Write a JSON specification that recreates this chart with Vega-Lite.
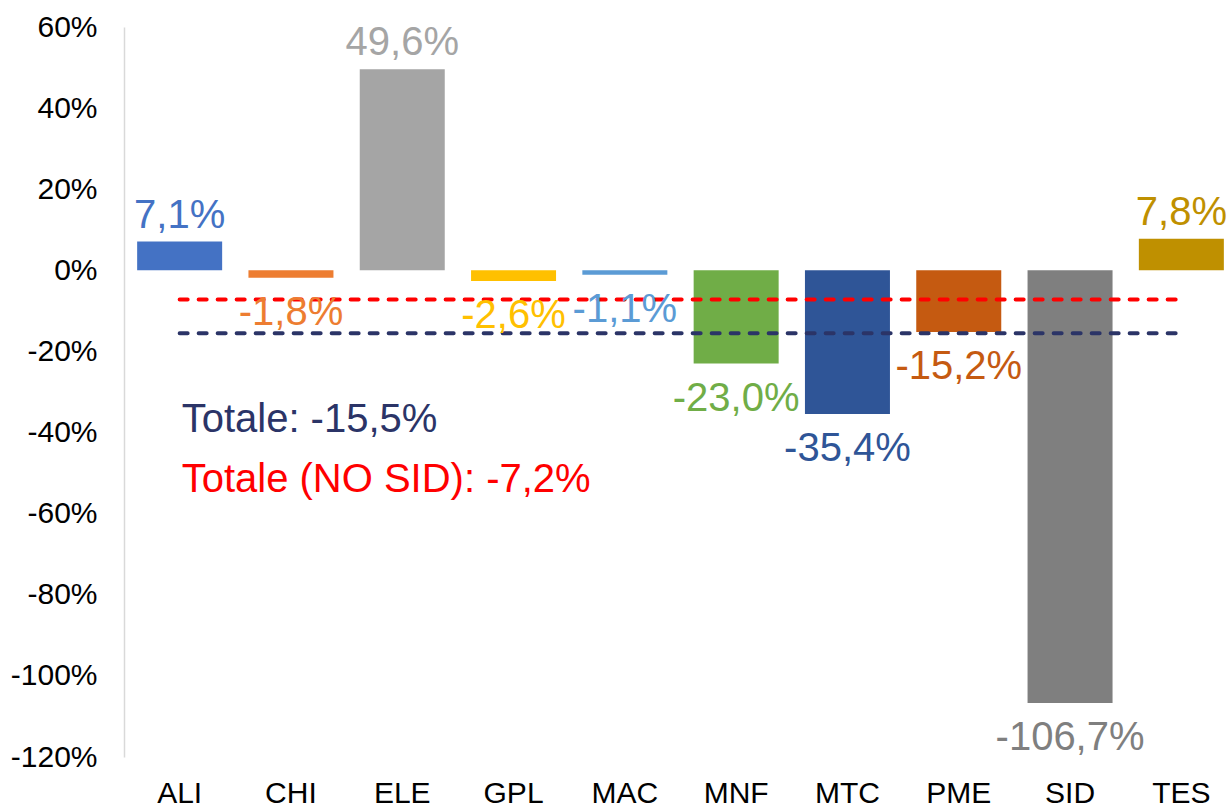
{
  "$schema": "https://vega.github.io/schema/vega-lite/v6.json",
  "width": 1113,
  "height": 730,
  "autosize": {"type": "none"},
  "padding": {"left": 124, "top": 27, "right": 0, "bottom": 51},
  "background": "white",
  "config": {
    "view": {"stroke": null},
    "font": "Liberation Sans",
    "locale": {"number": {"decimal": ",", "thousands": ".", "grouping": [3], "currency": ["", " €"], "minus": "-"}}
  },
  "datasets": {
    "bars": [
      {"cat": "ALI", "value": 0.071},
      {"cat": "CHI", "value": -0.018},
      {"cat": "ELE", "value": 0.496},
      {"cat": "GPL", "value": -0.026},
      {"cat": "MAC", "value": -0.011},
      {"cat": "MNF", "value": -0.230},
      {"cat": "MTC", "value": -0.354},
      {"cat": "PME", "value": -0.152},
      {"cat": "SID", "value": -1.067},
      {"cat": "TES", "value": 0.078}
    ],
    "totals": [
      {"serie": "Totale", "value": -0.155, "start": "ALI", "end": "TES", "label": "Totale: -15,5%"},
      {"serie": "Totale (NO SID)", "value": -0.072, "start": "ALI", "end": "TES", "label": "Totale (NO SID): -7,2%"}
    ]
  },
  "resolve": {"scale": {"color": "independent"}},
  "layer": [
    {
      "mark": {"type": "rule", "color": "#D9D9D9", "strokeWidth": 1.5},
      "encoding": {"y": {"datum": 0, "type": "quantitative", "scale": {"domain": [-1.2, 0.6], "nice": false, "zero": false}}}
    },
    {
      "data": {"name": "bars"},
      "mark": {"type": "bar", "size": 85},
      "encoding": {
        "x": {
          "field": "cat", "type": "nominal", "sort": null,
          "scale": {"paddingInner": 0.236, "paddingOuter": 0.118},
          "axis": {"title": null, "domain": false, "ticks": false, "labelAngle": 0, "labelFontSize": 30, "labelColor": "#000000", "labelPadding": 21, "labelFont": "Liberation Sans"}
        },
        "y": {
          "field": "value", "type": "quantitative",
          "scale": {"domain": [-1.2, 0.6], "nice": false, "zero": false},
          "axis": {"title": null, "grid": false, "ticks": false, "format": ".0%", "values": [-1.2, -1.0, -0.8, -0.6, -0.4, -0.2, 0, 0.2, 0.4, 0.6], "domainColor": "#D9D9D9", "domainWidth": 1.5, "labelFontSize": 30, "labelColor": "#000000", "labelPadding": 27, "labelFont": "Liberation Sans"}
        },
        "color": {
          "field": "cat", "type": "nominal", "legend": null,
          "scale": {"domain": ["ALI","CHI","ELE","GPL","MAC","MNF","MTC","PME","SID","TES"],
                    "range": ["#4472C4","#ED7D31","#A5A5A5","#FFC000","#5B9BD5","#70AD47","#2F5597","#C55A11","#7F7F7F","#BF9000"]}
        }
      }
    },
    {
      "data": {"name": "totals"},
      "mark": {"type": "rule", "strokeWidth": 4, "strokeDash": [8, 11], "strokeCap": "round"},
      "encoding": {
        "x": {"field": "start", "type": "nominal", "sort": null},
        "x2": {"field": "end"},
        "y": {"field": "value", "type": "quantitative"},
        "color": {"field": "serie", "type": "nominal", "legend": null,
                  "scale": {"domain": ["Totale", "Totale (NO SID)"], "range": ["#2B3467", "#FF0000"]}}
      }
    },
    {
      "data": {"name": "bars"},
      "transform": [{"filter": "datum.value >= 0"}],
      "mark": {"type": "text", "baseline": "alphabetic", "dy": -14, "fontSize": 40, "font": "Liberation Sans"},
      "encoding": {
        "x": {"field": "cat", "type": "nominal", "sort": null},
        "y": {"field": "value", "type": "quantitative"},
        "text": {"field": "value", "type": "quantitative", "format": ".1%"},
        "color": {
          "field": "cat", "type": "nominal", "legend": null,
          "scale": {"domain": ["ALI","CHI","ELE","GPL","MAC","MNF","MTC","PME","SID","TES"],
                    "range": ["#4472C4","#ED7D31","#A5A5A5","#FFC000","#5B9BD5","#70AD47","#2F5597","#C55A11","#7F7F7F","#BF9000"]}
        }
      }
    },
    {
      "data": {"name": "bars"},
      "transform": [{"filter": "datum.value < 0"}],
      "mark": {"type": "text", "baseline": "top", "dy": 15, "fontSize": 40, "font": "Liberation Sans"},
      "encoding": {
        "x": {"field": "cat", "type": "nominal", "sort": null},
        "y": {"field": "value", "type": "quantitative"},
        "text": {"field": "value", "type": "quantitative", "format": ".1%"},
        "color": {
          "field": "cat", "type": "nominal", "legend": null,
          "scale": {"domain": ["ALI","CHI","ELE","GPL","MAC","MNF","MTC","PME","SID","TES"],
                    "range": ["#4472C4","#ED7D31","#A5A5A5","#FFC000","#5B9BD5","#70AD47","#2F5597","#C55A11","#7F7F7F","#BF9000"]}
        }
      }
    },
    {
      "data": {"name": "totals"},
      "transform": [{"filter": "datum.serie == 'Totale'"}],
      "mark": {"type": "text", "align": "left", "baseline": "alphabetic", "dx": 2, "dy": 99, "fontSize": 40, "font": "Liberation Sans", "color": "#2B3467"},
      "encoding": {
        "x": {"field": "start", "type": "nominal", "sort": null},
        "y": {"field": "value", "type": "quantitative"},
        "text": {"field": "label"}
      }
    },
    {
      "data": {"name": "totals"},
      "transform": [{"filter": "datum.serie == 'Totale (NO SID)'"}],
      "mark": {"type": "text", "align": "left", "baseline": "alphabetic", "dx": 2, "dy": 192, "fontSize": 40, "font": "Liberation Sans", "color": "#FF0000"},
      "encoding": {
        "x": {"field": "start", "type": "nominal", "sort": null},
        "y": {"field": "value", "type": "quantitative"},
        "text": {"field": "label"}
      }
    }
  ]
}
